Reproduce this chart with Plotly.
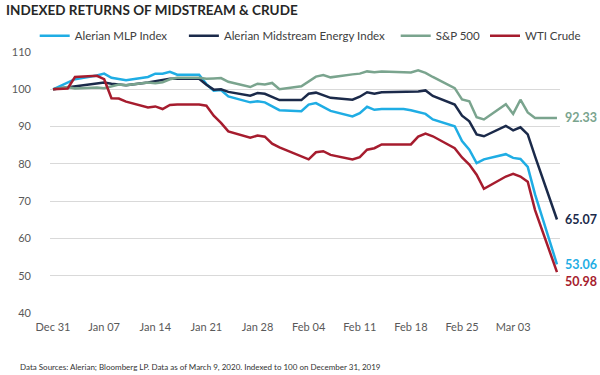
import plotly.graph_objects as go

dates = ["2019-12-31", "2020-01-02", "2020-01-03", "2020-01-06", "2020-01-07", "2020-01-08",
         "2020-01-09", "2020-01-10", "2020-01-13", "2020-01-14", "2020-01-15", "2020-01-16",
         "2020-01-17", "2020-01-20", "2020-01-21", "2020-01-22", "2020-01-23", "2020-01-24",
         "2020-01-27", "2020-01-28", "2020-01-29", "2020-01-30", "2020-01-31", "2020-02-03",
         "2020-02-04", "2020-02-05", "2020-02-06", "2020-02-07", "2020-02-10", "2020-02-11",
         "2020-02-12", "2020-02-13", "2020-02-14", "2020-02-17", "2020-02-18", "2020-02-19",
         "2020-02-20", "2020-02-21", "2020-02-24", "2020-02-25", "2020-02-26", "2020-02-27",
         "2020-02-28", "2020-03-02", "2020-03-03", "2020-03-04", "2020-03-05", "2020-03-06",
         "2020-03-09"]

alerian_mlp = [100, 101.8, 102.7, 103.7, 104.2, 103.1, 102.8, 102.4, 103.3, 104.2, 104.2, 104.7,
               103.9, 103.9, 101.4, 99.6, 99.8, 98.1, 96.5, 96.8, 96.5, 95.4, 94.4, 94.1,
               95.9, 96.3, 95.2, 94.2, 92.7, 93.6, 95.3, 94.5, 94.7, 94.7, 94.4, 94.0,
               93.4, 91.9, 90.1, 86.1, 83.8, 80.2, 81.2, 82.6, 81.6, 81.3, 79.2, 71.8,
               53.06]

alerian_midstream = [100, 100.5, 100.9, 101.6, 101.8, 101.5, 101.4, 101.1, 101.8, 102.1, 102.3, 102.8,
                     102.8, 102.8, 101.2, 99.9, 100.0, 99.3, 98.3, 99.0, 98.8, 97.9, 97.1, 97.1,
                     98.8, 99.1, 98.5, 97.7, 97.2, 98.0, 99.2, 98.8, 99.2, 99.2, 99.2, 99.4,
                     99.7, 98.2, 95.9, 92.9, 91.4, 87.9, 87.4, 90.2, 89.0, 89.8, 87.9, 82.0,
                     65.07]

sp500 = [100, 100.6, 100.2, 100.5, 100.3, 100.8, 101.3, 101.1, 101.8, 101.6, 101.9, 102.7,
         103.1, 103.1, 102.8, 102.9, 103.0, 102.0, 100.6, 101.5, 101.3, 101.7, 100.0, 100.8,
         102.2, 103.4, 103.8, 103.2, 104.0, 104.2, 104.8, 104.6, 104.8, 104.7, 104.5, 105.1,
         104.4, 103.3, 100.3, 97.3, 96.8, 92.5, 91.9, 96.0, 93.4, 97.2, 93.8, 92.33,
         92.33]

wti_crude = [100, 100.2, 103.3, 103.6, 102.7, 97.6, 97.5, 96.7, 95.1, 95.4, 94.7, 95.8,
             95.9, 95.9, 95.6, 92.9, 91.0, 88.7, 87.0, 87.6, 87.3, 85.4, 84.4, 82.1,
             81.2, 83.1, 83.4, 82.4, 81.2, 81.8, 83.8, 84.2, 85.2, 85.2, 85.2, 87.3,
             88.1, 87.4, 84.2, 81.7, 79.8, 77.1, 73.3, 76.6, 77.3, 76.6, 75.2, 67.6,
             50.98]

series_names = ["Alerian MLP Index", "Alerian Midstream Energy Index", "S&P 500", "WTI Crude"]
series_values = [alerian_mlp, alerian_midstream, sp500, wti_crude]
series_colors = ["#1fade4", "#1b2a4a", "#7aa48e", "#a61c2e"]
legend_pad = [4, 2, 0, 0]          # extra non-breaking spaces to spread legend entries
label_shift = [0, 0, 0, -9]

FONT = "Lato, 'Open Sans', sans-serif"

fig = go.Figure()
for name, vals, col, pad in zip(series_names, series_values, series_colors, legend_pad):
    fig.add_trace(go.Scatter(x=dates, y=vals, name=name + "\u00a0" * pad, mode="lines",
                             line=dict(color=col, width=2.5)))

for vals, col, ys in zip(series_values, series_colors, label_shift):
    fig.add_annotation(x=dates[-1], y=vals[-1], text="<b>%.2f</b>" % vals[-1],
                       showarrow=False, xanchor="left", yanchor="middle", xshift=6, yshift=ys,
                       font=dict(family=FONT, size=12.5, color=col))

fig.add_annotation(xref="paper", yref="paper", x=-0.0635, y=-0.205, xanchor="left", yanchor="middle",
                   text="Data Sources: Alerian; Bloomberg LP. Data as of March 9, 2020. Indexed to 100 on December 31, 2019",
                   showarrow=False, font=dict(family=FONT, size=8, color="#333333"))

fig.update_layout(
    width=600, height=375,
    margin=dict(l=40, r=40, t=52, b=62),
    paper_bgcolor="white", plot_bgcolor="white",
    title=dict(text="<b>INDEXED RETURNS OF MIDSTREAM &amp; CRUDE</b>", x=6/600, xref="container", xanchor="left",
               y=1 - 10/375, yref="container", yanchor="middle",
               font=dict(family=FONT, size=13.5, color="#262626")),
    legend=dict(orientation="h", x=-0.03, xanchor="left", y=1.062, yanchor="middle",
                font=dict(family=FONT, size=11.5, color="#404040"), bgcolor="rgba(0,0,0,0)"),
    font=dict(family=FONT),
)

fig.update_xaxes(type="date", range=["2019-12-30 14:00", "2020-03-09 10:00"],
                 tick0="2019-12-31", dtick=7 * 86400000, tickformat="%b %d",
                 showgrid=False, showline=False, zeroline=False, ticks="", ticklabelstandoff=6,
                 tickfont=dict(family=FONT, size=11, color="#595959"))
fig.update_yaxes(range=[40, 110], dtick=10, showgrid=True, gridcolor="#d9d9d9", gridwidth=1,
                 zeroline=False, showline=False, ticks="", ticklabelstandoff=18,
                 tickfont=dict(family=FONT, size=11, color="#595959"))

fig.write_html("out.html", config={"displayModeBar": False},
               post_script="document.body.style.margin='0';document.body.style.overflow='hidden';")
